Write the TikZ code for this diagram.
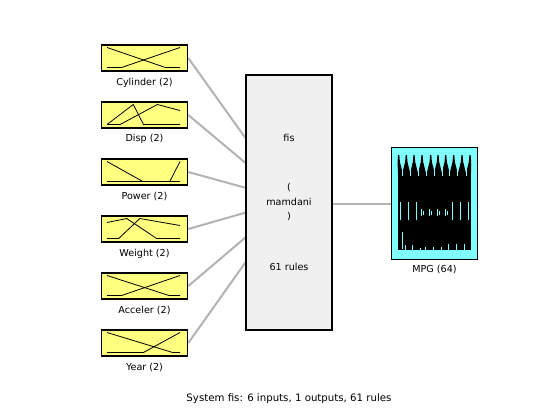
\documentclass[tikz,border=0pt]{standalone}
\usepackage{fontspec}
\setmainfont{DejaVu Sans}
\usetikzlibrary{calc}
\definecolor{inyellow}{RGB}{255,255,128}
\definecolor{outcyan}{RGB}{128,255,255}
\definecolor{fisgray}{RGB}{240,240,240}
\definecolor{conngray}{RGB}{179,179,179}
\pgfdeclarelayer{background}
\pgfsetlayers{background,main}
\begin{document}
\begin{tikzpicture}[x=1pt,y=-1pt,
  inbox/.style={draw=black,line width=1.6pt,fill=inyellow,minimum width=86pt,minimum height=26pt,inner sep=0pt},
  lbl/.style={font=\fontsize{9.6}{11}\selectfont,inner sep=0pt,anchor=base},
  conn/.style={draw=conngray,line width=2pt},
  mfline/.style={line width=0.8pt,black},
  cyanline/.style={draw=outcyan,line width=0.8pt}]
\useasboundingbox (0,0) rectangle (560,420);

% input boxes
\foreach \i/\n in {0/Cylinder,1/Disp,2/Power,3/Weight,4/Acceler,5/Year}{
  \node[inbox] (in\i) at (144.5,{58+57*\i}) {};
  \node[lbl] (lab\i) at (144.5,{58+57*\i+27}) {\n{} (2)};
}

% membership functions
\newcommand{\mfscope}[2]{%
  \begin{scope}[shift={(107,{58+57*#1+9.5})},x=73pt,y=20pt]
    #2
  \end{scope}}
\mfscope{0}{\draw[mfline] (0,1)--(0.8,0)--(1,0); \draw[mfline] (0,0)--(0.2,0)--(1,1);}
\mfscope{1}{\draw[mfline] (0,0)--(0.36,1)--(0.5,0)--(1,0); \draw[mfline] (0,0)--(0.18,0)--(0.69,1)--(1,0.7);}
\mfscope{2}{\draw[mfline] (0,1)--(0.49,0)--(1,0); \draw[mfline] (0,0)--(0.86,0)--(1,1);}
\mfscope{3}{\draw[mfline] (0,0.8)--(0.27,1)--(0.68,0)--(1,0); \draw[mfline] (0,0)--(0.16,0)--(0.45,1)--(1,0.65);}
\mfscope{4}{\draw[mfline] (0,1)--(0.85,0)--(1,0); \draw[mfline] (0,0)--(0.2,0)--(1,1);}
\mfscope{5}{\draw[mfline] (0,1)--(0.9,0)--(1,0); \draw[mfline] (0,0)--(0.5,0)--(1,1);}

% central fis box
\node[draw=black,line width=1.6pt,fill=fisgray,minimum width=86pt,minimum height=255pt,inner sep=0pt] (fis) at (289,202.5) {};
\node[lbl] (t1) at (289,142) {fis};
\node[lbl] (t2) at (289,190) {(};
\node[lbl] (t3) at (289,205) {mamdani};
\node[lbl] (t4) at (289,219) {)};
\node[lbl] (t5) at (289,270) {61 rules};

% output box
\node[draw=black,line width=1.6pt,fill=outcyan,minimum width=86pt,minimum height=112pt,inner sep=0pt] (out) at (434.5,203.5) {};
\node[lbl] (labout) at (434.5,272.5) {MPG (64)};
\fill[black] (398,172) rectangle (471,250);
\foreach \p in {398.7,406.3,414,422,430.7,438,445.7,453.7,462,470}{
  \fill[black] ({max(398,\p-3.8)},172.5)--(\p-1.2,162)--(\p-0.6,155)--(\p+0.6,155)--(\p+1.2,162)--({min(471,\p+3.8)},172.5)--cycle;
}
\foreach \p in {402.5,410,418,426,434,442,449.5,457.5,466}{
  \draw[cyanline] (\p,166)--(\p,176);
}
\foreach \p in {400.3,408.7,416.3,452.3,460.7,468}{
  \draw[cyanline] (\p,202)--(\p,220);
}
\foreach \p in {421.3,429.7,437.3,445.3}{
  \draw[cyanline] (\p,209)--(\p,216);
  \draw[cyanline] (\p+1.8,210.5)--(\p+1.8,214.5);
}
\draw[cyanline] (402,232)--(402,249);
\foreach \p/\h in {405/245,412/245,420/248,425/247,433/247,441/247,448/244,456/244,464/244}{
  \draw[cyanline] (\p,\h)--(\p,249.5);
}

% connectors
\begin{pgfonlayer}{background}
\fill[white] (0,0) rectangle (560,420);
\foreach \i in {0,...,5}{
  \draw[conn] (in\i.east) -- ($(fis.north west)+(0,{63.5+25*\i})$);
}
\draw[conn] (fis.east |- out.west) -- (out.west);
\end{pgfonlayer}

\node[lbl,font=\fontsize{10.2}{12}\selectfont] (title) at (289,401) {System fis: 6 inputs, 1 outputs, 61 rules};
\end{tikzpicture}
\end{document}
